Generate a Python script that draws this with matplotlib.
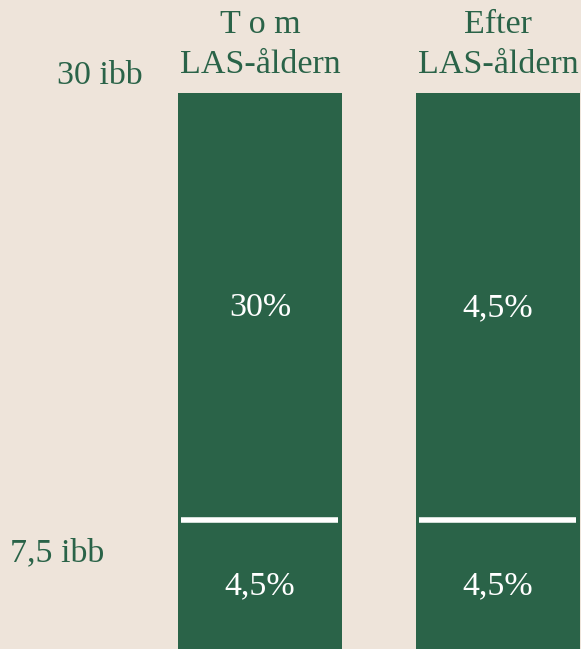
import matplotlib.pyplot as plt

# Data
categories = ["T o m\nLAS-åldern", "Efter\nLAS-åldern"]
thresholds = [7.5, 30]            # ibb
threshold_labels = ["7,5 ibb", "30 ibb"]
rate_low = ["4,5%", "4,5%"]       # below 7,5 ibb
rate_high = ["30%", "4,5%"]       # between 7,5 and 30 ibb

bg = "#EEE4DA"
green = "#2A6348"

plt.rcParams['font.family'] = ['Liberation Serif', 'DejaVu Serif']

fig = plt.figure(figsize=(5.81, 6.49), dpi=100, facecolor=bg)
ax = fig.add_axes([0, 0, 1, 1])
ax.set_facecolor(bg)

x = [0, 1]
width = 0.69
ax.bar(x, [thresholds[1]] * 2, width=width, color=green, zorder=2)

# split line at 7,5 ibb
for xi in x:
    ax.hlines(thresholds[0] - 0.05, xi - 0.33, xi + 0.33, color="white", lw=4, zorder=3)

# values inside the bars
for xi, lo, hi in zip(x, rate_low, rate_high):
    ax.text(xi, thresholds[0] / 2 + 0.2, lo, color="white", fontsize=24.5,
            ha="center", va="center", zorder=4)
    ax.text(xi, (thresholds[0] + thresholds[1]) / 2 - 0.1, hi, color="white",
            fontsize=24.5, ha="center", va="center", zorder=4)

# column headers, one line at a time
for xi, cat in zip(x, categories):
    top, bottom = cat.split("\n")
    ax.text(xi, thresholds[1] + 3.6, top, color=green, fontsize=24.5,
            ha="center", va="center")
    ax.text(xi, thresholds[1] + 1.5, bottom, color=green, fontsize=24.5,
            ha="center", va="center")

# threshold labels
ax.text(-0.672, thresholds[1] + 0.9, threshold_labels[1], color=green,
        fontsize=24.5, ha="center", va="center")
ax.text(-0.853, thresholds[0] - 1.8, threshold_labels[0], color=green,
        fontsize=24.5, ha="center", va="center")

ax.set_xlim(-1.092, 1.349)
ax.set_ylim(0.63, 34.9)
ax.axis("off")

fig.savefig("out.png", dpi=100, facecolor=bg)
